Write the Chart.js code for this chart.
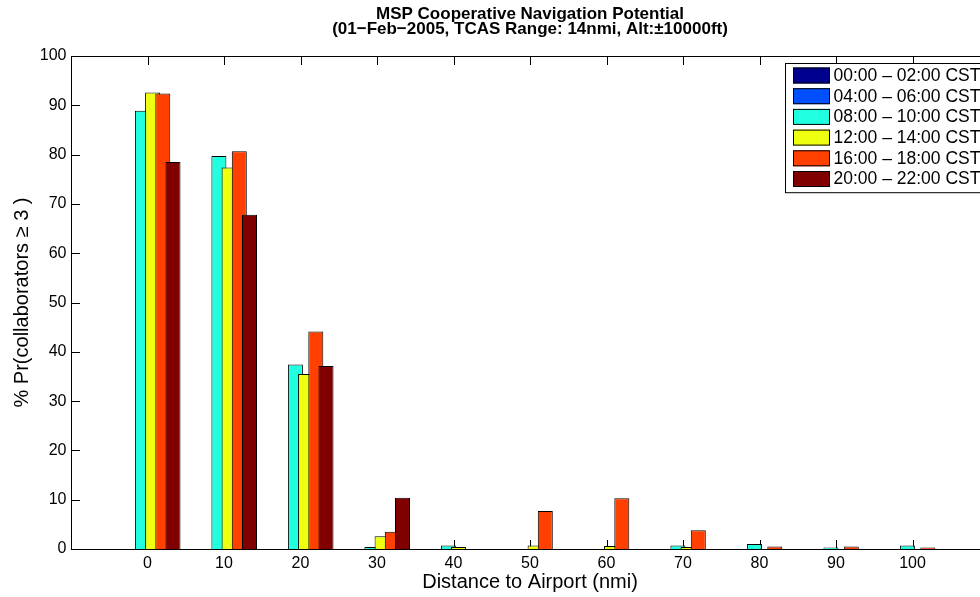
<!DOCTYPE html>
<html>
<head>
<meta charset="utf-8">
<title>MSP Cooperative Navigation Potential</title>
<script src="https://cdn.jsdelivr.net/npm/chart.js@4/dist/chart.umd.min.js"></script>
<style>
	html, body { margin: 0; padding: 0; background: #fff; overflow: hidden; }
	#wrap { position: relative; width: 1000px; height: 597px; }
</style>
</head>
<body>
<div id="wrap"><canvas id="navChart"></canvas></div>
<script>
// --- Data: % of aircraft with >= 3 collaborators, by distance bin ---
const distances = [0, 10, 20, 30, 40, 50, 60, 70, 80, 90, 100];
const timeWindows = [
	"00:00 \u2013 02:00 CST",
	"04:00 \u2013 06:00 CST",
	"08:00 \u2013 10:00 CST",
	"12:00 \u2013 14:00 CST",
	"16:00 \u2013 18:00 CST",
	"20:00 \u2013 22:00 CST",
];
const pr0000 = [0, 0, 0, 0, 0, 0, 0, 0, 0, 0, 0];
const pr0400 = [0, 0, 0, 0, 0, 0, 0, 0, 0, 0, 0];
const pr0800 = [88.9, 79.7, 37.4, 0.4, 0.7, 0, 0, 0.7, 1.0, 0.3, 0.7];
const pr1200 = [92.6, 77.4, 35.5, 2.6, 0.4, 0.7, 0.6, 0.4, 0, 0, 0];
const pr1600 = [92.4, 80.7, 44.1, 3.5, 0, 7.7, 10.3, 3.8, 0.5, 0.5, 0.3];
const pr2000 = [78.5, 67.8, 37.1, 10.4, 0, 0, 0, 0, 0, 0, 0];
const windowColors = ["#00008f", "#0050ff", "#20ffdf", "#efff10", "#ff4000", "#800000"];

const FONT = "'Liberation Sans', Arial, Helvetica, sans-serif";
Chart.defaults.color = "#000";
Chart.defaults.font.family = FONT;

const series = [pr0000, pr0400, pr0800, pr1200, pr1600, pr2000];

// inward tick marks on all four sides of the plot box
function drawTicks(chart) {
	const { ctx, chartArea: a, scales } = chart;
	const tick = 9;
	ctx.save();
	ctx.strokeStyle = "#000";
	ctx.lineWidth = 1;
	ctx.beginPath();
	scales.x.ticks.forEach((t) => {
		const x = Math.round(scales.x.getPixelForValue(t.value)) + 0.5;
		ctx.moveTo(x, a.bottom);
		ctx.lineTo(x, a.bottom - tick);
		ctx.moveTo(x, a.top);
		ctx.lineTo(x, a.top + tick);
	});
	scales.y.ticks.forEach((t) => {
		const y = Math.round(scales.y.getPixelForValue(t.value)) + 0.5;
		ctx.moveTo(a.left, y);
		ctx.lineTo(a.left + tick, y);
		ctx.moveTo(a.right, y);
		ctx.lineTo(a.right - tick, y);
	});
	ctx.stroke();
	ctx.restore();
}

// ticks first, then datasets left to right so later bars overlap earlier ones
const drawInIndexOrder = {
	id: "drawInIndexOrder",
	beforeDatasetsDraw(chart) {
		const { ctx, chartArea: a } = chart;
		drawTicks(chart);
		ctx.save();
		ctx.beginPath();
		ctx.rect(a.left, a.top, a.right - a.left, a.bottom - a.top);
		ctx.clip();
		chart.getSortedVisibleDatasetMetas().forEach((meta) => meta.controller.draw());
		ctx.restore();
		return false;
	},
};

// axes box, plus the boxed legend in the upper right
const axesBox = {
	id: "axesBox",
	afterDraw(chart) {
		const { ctx, chartArea: a } = chart;
		ctx.save();
		ctx.strokeStyle = "#000";
		ctx.lineWidth = 1;
		ctx.strokeRect(Math.round(a.left) + 0.5, Math.round(a.top) + 0.5,
			Math.round(a.right - a.left), Math.round(a.bottom - a.top));

		// legend
		const lx = 785, ly = 63, rowH = 20.7;
		const ds = chart.data.datasets;
		ctx.fillStyle = "#fff";
		ctx.fillRect(lx, ly, 210, ds.length * rowH + 5);
		ctx.strokeRect(lx + 0.5, ly + 0.5, 210, ds.length * rowH + 5);
		ctx.font = "17.5px " + FONT;
		ctx.textBaseline = "middle";
		ds.forEach((d, i) => {
			const y = ly + 4.5 + i * rowH;
			ctx.fillStyle = d.backgroundColor;
			ctx.fillRect(lx + 8, y, 37, 16);
			ctx.strokeRect(lx + 8.5, y + 0.5, 36, 15);
			ctx.fillStyle = "#000";
			ctx.fillText(d.label, lx + 48.5, y + 8.5);
		});
		ctx.restore();
	},
};

new Chart(document.getElementById("navChart"), {
	type: "bar",
	data: {
		labels: distances,
		datasets: series.map((values, i) => ({
			label: timeWindows[i],
			// empty bins get no bar at all
			data: values.map((v) => (v === 0 ? null : v)),
			backgroundColor: windowColors[i],
			borderColor: "#000",
			borderWidth: 1,
			borderSkipped: "start",
			categoryPercentage: 0.8,
			barPercentage: 1.47,
		})),
	},
	options: {
		responsive: true,
		maintainAspectRatio: false,
		animation: false,
		layout: { padding: { left: 0, right: 11, top: 0, bottom: 0 } },
		plugins: {
			legend: { display: false },
			tooltip: { enabled: false },
			title: {
				display: true,
				fullSize: false,
				text: [
					"MSP Cooperative Navigation Potential",
					"(01\u2212Feb\u22122005, TCAS Range: 14nmi, Alt:\u00b110000ft)",
				],
				font: { size: 17, weight: "bold", lineHeight: "14.5px" },
				padding: { top: 7.5, bottom: 19.5 },
				color: "#000",
			},
		},
		scales: {
			x: {
				type: "linear",
				min: -10,
				max: 110,
				offset: false,
				grid: { display: false, offset: false, drawTicks: false },
				border: { display: false },
				ticks: {
					stepSize: 10,
					padding: 5,
					maxRotation: 0,
					autoSkip: false,
					font: { size: 16 },
					callback: (v) => (v < 0 || v > 100 ? "" : v),
				},
				title: {
					display: true,
					text: "Distance to Airport (nmi)",
					font: { size: 20 },
					padding: { top: 0, bottom: 3 },
				},
				afterFit: (scale) => { scale.height = 48; },
			},
			y: {
				min: 0,
				max: 100,
				grid: { display: false, drawTicks: false },
				border: { display: false },
				ticks: { stepSize: 10, padding: 4.5, font: { size: 16 } },
				title: {
					display: true,
					text: "% Pr(collaborators \u2265 3 )",
					font: { size: 20 },
					padding: { top: 10, bottom: 0 },
				},
				afterFit: (scale) => { scale.width = 71; },
			},
		},
	},
	plugins: [drawInIndexOrder, axesBox],
});
</script>
</body>
</html>
